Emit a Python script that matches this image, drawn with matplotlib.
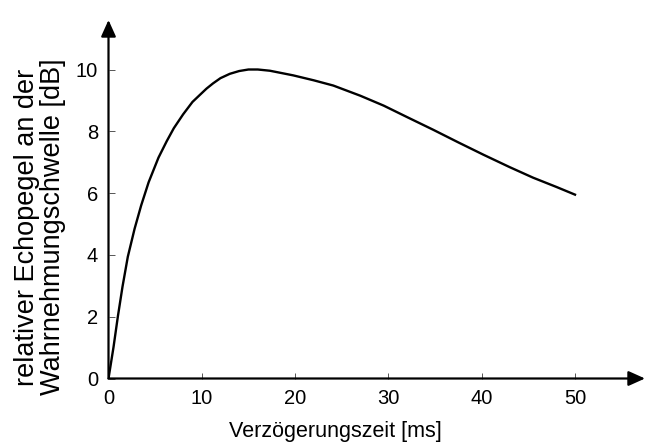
import matplotlib.pyplot as plt

plt.rcParams['font.family'] = ['Liberation Sans', 'DejaVu Sans']

# curve
delay_ms = [0, 0.54, 1.0, 1.5, 2.07, 2.8, 3.5, 4.3, 5.36, 6.24, 7.0, 8.0, 9.0,
            9.8, 10.5, 11.2, 12.0, 13.0, 14.0, 15.0, 16.0, 17.3, 19.8, 22.0,
            24.1, 27.0, 29.5, 32.0, 34.8, 37.5, 40.2, 43.0, 45.5, 48.0, 50.0]
level_db = [0, 1.02, 2.0, 2.97, 3.94, 4.85, 5.6, 6.35, 7.15, 7.68, 8.1, 8.55, 8.95,
            9.18, 9.38, 9.55, 9.72, 9.86, 9.95, 10.0, 10.0, 9.96, 9.81, 9.65,
            9.48, 9.15, 8.83, 8.46, 8.05, 7.64, 7.24, 6.84, 6.5, 6.2, 5.95]

xticks = [0, 10, 20, 30, 40, 50]
yticks = [0, 2, 4, 6, 8, 10]

fig = plt.figure(figsize=(6.45, 4.43), dpi=100)
ax = fig.add_axes([108.5/645, (443-378.5)/443, (645-108.5)/645, (378.5-20)/443])

ax.plot(delay_ms, level_db, color='black', lw=1.7, solid_joinstyle='round')

ax.set_xlim(0, (645-108.5)/9.33)
ax.set_ylim(0, (378.5-20)/30.9)

for s in ['top', 'right', 'bottom', 'left']:
    ax.spines[s].set_visible(False)

# axes with arrow heads
arrow = dict(arrowstyle='-|>,head_length=1.0,head_width=0.45',
             color='black', lw=1.6, shrinkA=0, shrinkB=0)
ax.annotate('', xy=(1.0, 0), xytext=(0, 0), xycoords='axes fraction',
            arrowprops=arrow, annotation_clip=False)
ax.annotate('', xy=(0, 1.0), xytext=(0, 0), xycoords='axes fraction',
            arrowprops=arrow, annotation_clip=False)

ax.set_xticks(xticks)
ax.set_yticks(yticks)
ax.tick_params(direction='in', length=4, width=0.7, color='#555555',
               labelsize=14.5, pad=7.5)

fig.text(335/645, 1-431/443, 'Verzögerungszeit [ms]', fontsize=15.5,
         ha='center', va='center')
fig.text(40/645, 1-227/443, 'relativer Echopegel an der\nWahrnehmungschwelle [dB]',
         fontsize=19.5, rotation=90, ha='center', va='center', linespacing=1.0)

fig.savefig('out.png', dpi=100)
